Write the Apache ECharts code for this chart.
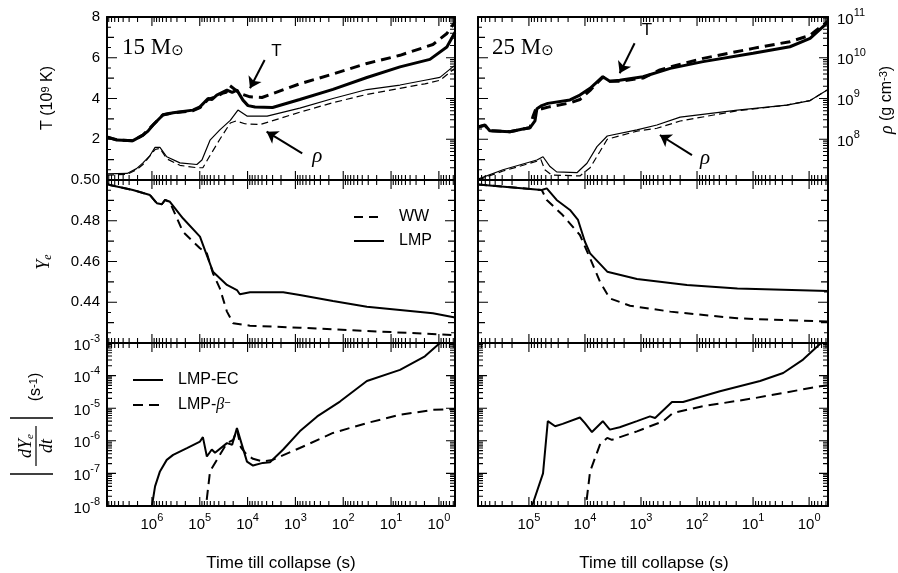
<!DOCTYPE html>
<html><head><meta charset="utf-8">
<script src="https://cdn.jsdelivr.net/npm/echarts@6/dist/echarts.min.js"></script>
<style>html,body{margin:0;padding:0;background:#fff}#c{width:898px;height:573px}</style>
</head><body><div id="c"></div>
<script>
// ================= DATA (time till collapse in s) =================
const tMin15 = 0.46, tMax15 = 8.7e6;
const tMin25 = 0.46, tMax25 = 8.1e5;
// 15 Msun: central temperature (10^9 K)
const tT15_LMP = [8.7e6,5.4e6,2.5e6,1.54e6,1.21e6,9.5e5,5.9e5,3.6e5,1.39e5,9.9e4,6.7e4,5.6e4,4.4e4,2.7e4,2.1e4,1.67e4,1.25e4,9.8e3,7.0e3,3.0e3,810,164,32,6.5,1.54,0.68,0.46];
const T15_LMP  = [2.12,1.96,1.93,2.2,2.4,2.7,3.19,3.3,3.43,3.59,4.0,3.95,4.17,4.41,4.3,4.41,3.92,3.65,3.58,3.56,3.95,4.45,5.03,5.55,5.92,6.53,7.25];
const tT15_WW  = [8.7e6,5.4e6,2.5e6,1.54e6,9.5e5,5.9e5,3.6e5,1.39e5,9.9e4,6.7e4,4.4e4,3.4e4,2.8e4,2.4e4,1.45e4,8.9e3,5.0e3,810,164,32,6.5,1.33,0.68,0.46];
const T15_WW   = [2.1,1.97,1.93,2.2,2.7,3.2,3.3,3.4,3.55,3.95,4.1,4.25,4.3,4.65,4.25,4.08,4.05,4.72,5.2,5.72,6.12,6.65,7.19,7.76];
// 15 Msun: central density (g cm^-3)
const tR15_LMP = [8.7e6,3.3e6,2.1e6,1.54e6,1.1e6,8.6e5,6.8e5,4.9e5,2.6e5,1.15e5,9.0e4,6.1e4,3.8e4,2.3e4,1.59e4,1.03e4,3.9e3,810,164,32,6.5,1.96,0.95,0.46];
const R15_LMP  = [1.41e7,1.45e7,1.9e7,2.63e7,3.98e7,6.3e7,6.3e7,3.72e7,2.63e7,2.4e7,3.09e7,9.5e7,1.7e8,2.9e8,5.2e8,3.7e8,3.7e8,5.8e8,1.0e9,1.66e9,2.14e9,2.8e9,3.3e9,6.6e9];
const tR15_WW  = [8.7e6,3.3e6,2.1e6,1.54e6,8.6e5,6.8e5,4.9e5,2.6e5,1.15e5,8.6e4,6.1e4,3.8e4,2.3e4,1.75e4,1.14e4,5.5e3,810,164,32,6.5,1.96,0.95,0.46];
const R15_WW   = [1.32e7,1.38e7,1.78e7,2.4e7,5.6e7,6.0e7,3.31e7,2.29e7,2.0e7,2.0e7,3.98e7,1.0e8,2.5e8,2.8e8,2.4e8,2.29e8,4.6e8,7.9e8,1.26e9,1.78e9,2.29e9,2.8e9,5.5e9];
// 15 Msun: Ye
const tY15_LMP = [8.7e6,7.6e6,2.5e6,1.1e6,7.9e5,6.2e5,5.3e5,4.2e5,2.25e5,9.9e4,7.8e4,5.3e4,2.7e4,1.67e4,1.45e4,8.9e3,1.8e3,810,164,32,6.5,1.33,0.46];
const Y15_LMP  = [0.4982,0.4975,0.4951,0.4926,0.4886,0.4881,0.4902,0.4893,0.4812,0.4722,0.4656,0.455,0.4485,0.446,0.4439,0.4449,0.4449,0.4436,0.4406,0.4378,0.4362,0.4346,0.4325];
const tY15_WW  = [8.7e6,7.6e6,2.5e6,1.1e6,7.9e5,6.2e5,5.3e5,4.2e5,2.25e5,9.9e4,7.1e4,5.3e4,3.8e4,2.7e4,2.0e4,8.9e3,810,32,0.46];
const Y15_WW   = [0.4982,0.4975,0.4951,0.4926,0.4886,0.4881,0.4902,0.489,0.4746,0.4665,0.464,0.4542,0.4468,0.4354,0.4297,0.4285,0.4275,0.4259,0.4239];
// 15 Msun: |dYe/dt| (s^-1)
const tD15_EC  = [1.05e6,1.0e6,8.6e5,6.8e5,4.9e5,3.6e5,1.85e5,9.9e4,8.6e4,7.1e4,5.6e4,4.8e4,2.7e4,2.1e4,1.67e4,1.03e4,7.7e3,4.8e3,3.4e3,1.8e3,810,350,117,32,6.5,1.96,0.95,0.46];
const D15_EC   = [6.3e-9,1.0e-8,4.0e-8,1.15e-7,2.6e-7,3.7e-7,6.0e-7,9.5e-7,1.3e-6,3.3e-7,5.4e-7,4.3e-7,8.5e-7,7.6e-7,2.45e-6,2.3e-7,1.74e-7,2.1e-7,2.2e-7,5.4e-7,1.95e-6,5.6e-6,1.6e-5,6.8e-5,1.5e-4,3.9e-4,1.0e-3,2.0e-3];
const tD15_B   = [7.8e4,7.4e4,6.1e4,3.8e4,2.7e4,2.0e4,1.67e4,1.38e4,1.03e4,7.7e3,4.8e3,3.0e3,810,164,32,6.5,1.33,0.46];
const D15_B    = [5.0e-9,1.0e-8,1.15e-7,3.7e-7,8.5e-7,1.07e-6,2.2e-6,6.3e-7,3.7e-7,2.8e-7,2.3e-7,2.6e-7,6.0e-7,1.74e-6,3.5e-6,6.3e-6,8.9e-6,9.5e-6];
// 25 Msun: temperature
const tT25_LMP = [8.1e5,7.5e5,6.1e5,5.0e5,2.2e5,1.28e5,9.6e4,7.8e4,7.2e4,5.9e4,4.6e4,1.85e4,1.23e4,8.1e3,4.8e3,3.6e3,2.4e3,920,300,78,10,2.2,0.96,0.46];
const T25_LMP  = [2.6,2.58,2.7,2.42,2.37,2.5,2.56,2.9,3.5,3.65,3.76,3.93,4.17,4.5,5.07,4.85,4.9,5.07,5.48,5.81,6.22,6.54,6.95,7.75];
const tT25_WW  = [8.1e5,6.1e5,5.0e5,2.2e5,1.28e5,9.6e4,8.5e4,7.5e4,5.9e4,4.2e4,1.85e4,1.23e4,8.1e3,4.8e3,3.6e3,2.4e3,920,460,300,78,10,2.2,0.96,0.46];
const T25_WW   = [2.6,2.68,2.42,2.37,2.5,2.56,3.1,3.5,3.5,3.6,3.78,3.95,4.4,5.05,4.85,4.85,5.0,5.4,5.55,5.97,6.46,6.79,7.1,7.8];
// 25 Msun: density
const tR25_LMP = [8.1e5,2.9e5,7.2e4,5.6e4,4.2e4,3.2e4,1.39e4,9.2e3,6.1e3,4.0e3,1.18e3,520,200,19,2.5,0.96,0.46];
const R25_LMP  = [1.05e7,1.78e7,3.09e7,3.72e7,2.14e7,1.58e7,1.51e7,2.57e7,6.6e7,1.2e8,1.7e8,2.24e8,3.5e8,5.2e8,6.9e8,8.9e8,1.66e9];
const tR25_WW  = [8.1e5,2.9e5,7.2e4,6.1e4,5.2e4,3.9e4,1.23e4,8.1e3,5.4e3,4.0e3,1.18e3,520,200,19,2.5,0.96,0.46];
const R25_WW   = [1.0e7,1.66e7,2.88e7,3.16e7,1.78e7,1.32e7,1.26e7,2.0e7,5.0e7,1.0e8,1.58e8,1.86e8,2.8e8,5.0e8,6.9e8,8.9e8,1.66e9];
// 25 Msun: Ye
const tY25_LMP = [8.1e5,5.9e4,4.8e4,3.2e4,1.85e4,1.33e4,1.0e4,8.1e3,4.0e3,1.18e3,151,19,0.46];
const Y25_LMP  = [0.4978,0.4951,0.4959,0.4902,0.4853,0.4804,0.4697,0.464,0.455,0.4514,0.4485,0.4468,0.4455];
const tY25_WW  = [8.1e5,5.9e4,4.8e4,2.5e4,1.23e4,8.1e3,5.4e3,3.6e3,1.57e3,300,19,0.46];
const Y25_WW   = [0.4978,0.4951,0.4902,0.4828,0.473,0.4616,0.4501,0.4419,0.4383,0.4354,0.4321,0.4305];
// 25 Msun: |dYe/dt|
const tD25_EC  = [9.6e4,8.8e4,5.6e4,4.6e4,3.4e4,2.5e4,1.23e4,1.0e4,7.5e3,4.8e3,3.6e3,2.4e3,1.18e3,690,560,280,178,39,7.5,2.9,1.28,0.64,0.46];
const D25_EC   = [6.3e-9,1.0e-8,1.0e-7,4.0e-6,2.8e-6,3.3e-6,5.2e-6,3.5e-6,1.86e-6,4.0e-6,2.2e-6,2.6e-6,4.0e-6,5.6e-6,5.0e-6,1.55e-5,1.55e-5,3.3e-5,6.8e-5,1.2e-4,3.1e-4,9.3e-4,1.6e-3];
const tD25_B   = [1.0e4,9.6e3,8.1e3,5.4e3,4.0e3,3.3e3,1.18e3,400,270,78,10,0.64,0.46];
const D25_B    = [5.0e-9,1.0e-8,1.15e-7,7.6e-7,1.23e-6,1.07e-6,1.95e-6,4.0e-6,7.1e-6,1.15e-5,2.0e-5,4.7e-5,5.0e-5];
// annotation arrows (time, value)
const arrowT15 = [[4.4e3, 5.89], [8.9e3, 4.5]];  const labelT15 = [2.5e3, 6.3];
const arrowR15 = [[7.2e2, 4.5e7], [4.0e3, 1.53e8]]; const labelR15 = [3.5e2, 3.7e7];
const arrowT25 = [[1.3e3, 6.71], [2.4e3, 5.24]];  const labelT25 = [7.8e2, 7.36];
const arrowR25 = [[1.23e2, 4.1e7], [4.6e2, 1.27e8]]; const labelR25 = [72, 3.4e7];

// ================= CHART =================
const SANS = '"Liberation Sans", Arial, Helvetica, sans-serif';
const SERIF = '"Liberation Serif", "Times New Roman", serif';
const L = Math.log10;
const pairs = (ts, vs) => ts.map((t, i) => [L(t), vs[i]]);
const pairsLog = (ts, vs) => ts.map((t, i) => [L(t), L(vs[i])]);
function steps(a, b, s) { const o = []; const n = Math.round((b - a) / s); for (let i = 0; i <= n; i++) o.push(+(a + i * s).toFixed(6)); return o; }
function logMinors(lo, hi) {
  const o = [];
  for (let n = Math.floor(lo) - 1; n <= Math.ceil(hi); n++)
    for (let k = 2; k <= 9; k++) { const v = n + Math.log10(k); if (v > lo + 1e-9 && v < hi - 1e-9) o.push(v); }
  return o;
}
const supRich = {
  b: { fontSize: 15, fontFamily: SANS, color: '#000', lineHeight: 20, verticalAlign: 'bottom' },
  s: { fontSize: 11, fontFamily: SANS, color: '#000', lineHeight: 12, verticalAlign: 'top' }
};
const powFmt = v => '{b|10}{s|' + Math.round(v) + '}';
function mk(gi, pos, min, max, inverse, label) {
  return {
    gridIndex: gi, type: 'value', position: pos, min: min, max: max, inverse: inverse,
    axisLine: { show: true, onZero: false, lineStyle: { color: '#000', width: 2 } },
    axisTick: { show: false }, minorTick: { show: false },
    axisLabel: label ? Object.assign({ show: true, color: '#000', fontFamily: SANS, fontSize: 15 }, label) : { show: false },
    splitLine: { show: false }, splitArea: { show: false }, axisPointer: { show: false }
  };
}
const panels = [
  { key: '15', left: 107, width: 348, tMin: tMin15, tMax: tMax15 },
  { key: '25', left: 478, width: 350, tMin: tMin25, tMax: tMax25 }
];
const rowTops = [17, 180, 343], rowH = 163;
const linTicks = (min, max, big, mid, small) => [
  [steps(min, max, big), 10],
  [steps(min, max, mid).filter(v => Math.abs(v / big - Math.round(v / big)) > 1e-6), 7],
  [steps(min + small, max - small, mid), 4]
];
const logTicks = (min, max) => [[steps(min, max, 1), 9], [logMinors(min, max), 5]];
const rowY = [
  { left: { min: 0, max: 8, ticks: linTicks(0, 8, 2, 1, 0.5), labels: [2, 4, 6, 8], fmt: v => String(Math.round(v)), rich: {} },
    right: { min: 7, max: 11, ticks: logTicks(7, 11), labels: [8, 9, 10, 11], fmt: powFmt, rich: supRich } },
  { left: { min: 0.42, max: 0.50, ticks: linTicks(0.42, 0.50, 0.02, 0.01, 0.005), labels: [0.44, 0.46, 0.48, 0.50], fmt: v => v.toFixed(2), rich: {} } },
  { left: { min: -8, max: -3, ticks: logTicks(-8, -3), labels: steps(-8, -3, 1), fmt: powFmt, rich: supRich } }
];
rowY[1].right = rowY[1].left; rowY[2].right = rowY[2].left;

// tick marks drawn as broken line series in data space (tick length converted from px to data units)
const BRK = ['-', '-'];
function tickLine(xi, yi, data) {
  return { type: 'line', name: 'ticks', xAxisIndex: xi, yAxisIndex: yi, data: data,
    symbol: 'none', showSymbol: false, connectNulls: false, clip: false, silent: true, z: 4,
    lineStyle: { color: '#000', width: 1.1, type: 'solid' }, itemStyle: { color: '#000' },
    emphasis: { disabled: true }, animation: false };
}

const grids = [], xAxes = [], yAxes = [], refs = { '15': [], '25': [] }, tickSer = [];
panels.forEach((p, pi) => {
  rowTops.forEach((top, ri) => {
    const gi = grids.length;
    grids.push({ left: p.left, top: top, width: p.width, height: rowH });
    const xmin = L(p.tMin), xmax = L(p.tMax);
    const xMaj = steps(Math.ceil(xmin), Math.floor(xmax), 1);
    const xi = xAxes.length;
    xAxes.push(mk(gi, 'bottom', xmin, xmax, true,
      ri === 2 ? { customValues: xMaj, formatter: powFmt, rich: supRich, margin: 6 } : null));
    xAxes.push(mk(gi, 'top', xmin, xmax, true, null));
    const lc = rowY[ri].left, rc = rowY[ri].right;
    const yl = yAxes.length;
    yAxes.push(mk(gi, 'left', lc.min, lc.max, false,
      pi === 0 ? { customValues: lc.labels, formatter: lc.fmt, rich: lc.rich, margin: 7 } : null));
    const yr = yAxes.length;
    yAxes.push(mk(gi, 'right', rc.min, rc.max, false,
      (pi === 1 && ri === 0) ? { customValues: rc.labels, formatter: rc.fmt, rich: rc.rich, margin: 9 } : null));
    // px -> data-unit factors for tick lengths
    const ux = (xmax - xmin) / p.width, uyL = (lc.max - lc.min) / rowH, uyR = (rc.max - rc.min) / rowH;
    const xT = [[xMaj, 9], [logMinors(xmin, xmax), 5]];
    const dL = [], dR = [];
    xT.forEach(([vals, len]) => vals.forEach(v => {
      dL.push([v, lc.min], [v, lc.min + len * uyL], BRK);
      dL.push([v, lc.max], [v, lc.max - len * uyL], BRK);
    }));
    // inverse x axis: left edge is xmax, right edge is xmin
    lc.ticks.forEach(([vals, len]) => vals.forEach(v => dL.push([xmax, v], [xmax - len * ux, v], BRK)));
    rc.ticks.forEach(([vals, len]) => vals.forEach(v => dR.push([xmin, v], [xmin + len * ux, v], BRK)));
    tickSer.push(tickLine(xi, yl, dL), tickLine(xi, yr, dR));
    refs[p.key][ri] = { x: xi, yl: yl, yr: yr };
  });
});

function ln(name, data, ref, yIdx, width, dash) {
  return {
    type: 'line', name: name, data: data, xAxisIndex: ref.x, yAxisIndex: yIdx,
    symbol: 'none', showSymbol: false, clip: true, silent: true,
    lineStyle: { color: '#000', width: width, type: dash || 'solid' },
    itemStyle: { color: '#000' }, emphasis: { disabled: true }
  };
}
function arrow(a, logY) {
  const f = v => logY ? L(v) : v;
  return {
    silent: true, symbol: ['none', 'arrow'], symbolSize: 11, animation: false,
    lineStyle: { color: '#000', width: 2, type: 'solid' }, label: { show: false }, emphasis: { disabled: true },
    data: [[{ coord: [L(a[0][0]), f(a[0][1])] }, { coord: [L(a[1][0]), f(a[1][1])] }]]
  };
}
function tag(pos, text, logY, style) {
  return {
    silent: true, symbol: 'circle', symbolSize: 1, itemStyle: { color: 'rgba(0,0,0,0)' }, animation: false,
    label: Object.assign({ show: true, position: 'inside', formatter: text, color: '#000' }, style),
    data: [{ coord: [L(pos[0]), logY ? L(pos[1]) : pos[1]] }]
  };
}
const DASH_T = [10, 6], DASH_R = [7, 4], DASH_Y = [9, 6], DASH_D = [10, 6];
const tStyle = { fontSize: 17, fontFamily: SANS };
const rStyle = { fontSize: 21, fontFamily: SERIF, fontStyle: 'italic' };
const series = [];
['15', '25'].forEach(k => {
  const r = refs[k];
  const Y_L = k === '15' ? [tY15_LMP, Y15_LMP] : [tY25_LMP, Y25_LMP];
  const Y_W = k === '15' ? [tY15_WW, Y15_WW] : [tY25_WW, Y25_WW];
  series.push(ln('WW', pairs(Y_W[0], Y_W[1]), r[1], r[1].yl, 2, DASH_Y));
  series.push(ln('LMP', pairs(Y_L[0], Y_L[1]), r[1], r[1].yl, 2, 'solid'));
});
['15', '25'].forEach(k => {
  const r = refs[k];
  const E = k === '15' ? [tD15_EC, D15_EC] : [tD25_EC, D25_EC];
  const B = k === '15' ? [tD15_B, D15_B] : [tD25_B, D25_B];
  series.push(ln('LMP-EC', pairsLog(E[0], E[1]), r[2], r[2].yl, 2, 'solid'));
  series.push(ln('LMP-β⁻', pairsLog(B[0], B[1]), r[2], r[2].yl, 2, DASH_D));
});
['15', '25'].forEach(k => {
  const r = refs[k];
  const TL = k === '15' ? [tT15_LMP, T15_LMP] : [tT25_LMP, T25_LMP];
  const TWd = k === '15' ? [tT15_WW, T15_WW] : [tT25_WW, T25_WW];
  const RL = k === '15' ? [tR15_LMP, R15_LMP] : [tR25_LMP, R25_LMP];
  const RW = k === '15' ? [tR15_WW, R15_WW] : [tR25_WW, R25_WW];
  const aT = k === '15' ? arrowT15 : arrowT25, lT = k === '15' ? labelT15 : labelT25;
  const aR = k === '15' ? arrowR15 : arrowR25, lR = k === '15' ? labelR15 : labelR25;
  series.push(ln('T WW ' + k, pairs(TWd[0], TWd[1]), r[0], r[0].yl, 3, DASH_T));
  const sT = ln('T LMP ' + k, pairs(TL[0], TL[1]), r[0], r[0].yl, 3, 'solid');
  sT.markLine = arrow(aT, false); sT.markPoint = tag(lT, 'T', false, tStyle);
  series.push(sT);
  series.push(ln('rho WW ' + k, pairsLog(RW[0], RW[1]), r[0], r[0].yr, 1.2, DASH_R));
  const sR = ln('rho LMP ' + k, pairsLog(RL[0], RL[1]), r[0], r[0].yr, 1.2, 'solid');
  sR.markLine = arrow(aR, true); sR.markPoint = tag(lR, 'ρ', true, rStyle);
  series.push(sR);
});

const legTxt = { fontSize: 16, fontFamily: SANS, color: '#000', padding: [0, 0, 0, 10],
  rich: { i: { fontSize: 16, fontFamily: SERIF, fontStyle: 'italic', color: '#000' },
          s: { fontSize: 11, fontFamily: SANS, color: '#000', lineHeight: 10, verticalAlign: 'top' } } };
const txt = (extra) => Object.assign({ fill: '#000' }, extra);
const graphic = [
  { type: 'text', left: 122, top: 36, style: txt({ text: '15 M{o|⊙}', font: '23px ' + SERIF,
      rich: { o: { fontSize: 15, fontFamily: '"DejaVu Sans"', lineHeight: 14, verticalAlign: 'bottom', fill: '#000' } } }) },
  { type: 'text', left: 492, top: 36, style: txt({ text: '25 M{o|⊙}', font: '23px ' + SERIF,
      rich: { o: { fontSize: 15, fontFamily: '"DejaVu Sans"', lineHeight: 14, verticalAlign: 'bottom', fill: '#000' } } }) },
  { type: 'text', x: 48, y: 98, rotation: Math.PI / 2, style: txt({ text: 'T (10{s|9} K)', fontSize: 16, fontFamily: SANS, align: 'center', verticalAlign: 'middle',
      rich: { s: { fontSize: 11, fontFamily: SANS, lineHeight: 10, verticalAlign: 'top', fill: '#000' } } }) },
  { type: 'text', x: 44, y: 262, rotation: Math.PI / 2, style: txt({ text: '{y|Y}{e|e}', align: 'center', verticalAlign: 'middle',
      rich: { y: { fontSize: 18, fontFamily: SERIF, fontStyle: 'italic', lineHeight: 20, fill: '#000' },
              e: { fontSize: 12, fontFamily: SERIF, fontStyle: 'italic', lineHeight: 10, verticalAlign: 'bottom', fill: '#000' } } }) },
  { type: 'text', x: 887, y: 100, rotation: Math.PI / 2, style: txt({ text: '{r|ρ} (g cm{s|-3})', fontSize: 16, fontFamily: SANS, align: 'center', verticalAlign: 'middle',
      rich: { r: { fontSize: 18, fontFamily: SERIF, fontStyle: 'italic', fill: '#000' },
              s: { fontSize: 11, fontFamily: SANS, lineHeight: 10, verticalAlign: 'top', fill: '#000' } } }) },
  { type: 'group', x: 36, y: 446, rotation: Math.PI / 2, children: [
      { type: 'text', x: 0, y: -10, style: txt({ text: '{d|dY}{e|e}', align: 'center', verticalAlign: 'middle',
          rich: { d: { fontSize: 18, fontFamily: SERIF, fontStyle: 'italic', lineHeight: 20, fill: '#000' },
                  e: { fontSize: 11, fontFamily: SERIF, fontStyle: 'italic', lineHeight: 9, verticalAlign: 'bottom', fill: '#000' } } }) },
      { type: 'line', shape: { x1: -20, y1: 0, x2: 20, y2: 0 }, style: { stroke: '#000', lineWidth: 1.2 } },
      { type: 'text', x: 0, y: 11, style: txt({ text: 'dt', fontSize: 18, fontFamily: SERIF, fontStyle: 'italic', align: 'center', verticalAlign: 'middle' }) },
      { type: 'line', shape: { x1: -28, y1: -26, x2: -28, y2: 17 }, style: { stroke: '#000', lineWidth: 1.3 } },
      { type: 'line', shape: { x1: 28, y1: -26, x2: 28, y2: 17 }, style: { stroke: '#000', lineWidth: 1.3 } },
      { type: 'text', x: 59, y: 0, style: txt({ text: '(s{s|-1})', fontSize: 16, fontFamily: SANS, align: 'center', verticalAlign: 'middle',
          rich: { s: { fontSize: 11, fontFamily: SANS, lineHeight: 10, verticalAlign: 'top', fill: '#000' } } }) }
  ] },
  { type: 'text', x: 281, y: 563, style: txt({ text: 'Time till collapse (s)', fontSize: 17, fontFamily: SANS, align: 'center', verticalAlign: 'middle' }) },
  { type: 'text', x: 654, y: 563, style: txt({ text: 'Time till collapse (s)', fontSize: 17, fontFamily: SANS, align: 'center', verticalAlign: 'middle' }) }
];
const legendCommon = { orient: 'vertical', itemWidth: 30, itemHeight: 12, selectedMode: false, textStyle: legTxt,
  lineStyle: { width: 2 }, itemStyle: { opacity: 0 } };
const chart = echarts.init(document.getElementById('c'), null, { renderer: 'canvas' });
chart.setOption({
  animation: false, backgroundColor: '#fff',
  grid: grids, xAxis: xAxes, yAxis: yAxes,
  legend: [
    Object.assign({ data: ['WW', 'LMP'], left: 348, top: 204, itemGap: 8 }, legendCommon),
    Object.assign({ data: ['LMP-EC', 'LMP-β⁻'], left: 127, top: 367, itemGap: 9,
      formatter: n => n === 'LMP-β⁻' ? 'LMP-{i|β}{s|−}' : n }, legendCommon)
  ],
  series: series.concat(tickSer),
  graphic: graphic
});
</script>
</body></html>
